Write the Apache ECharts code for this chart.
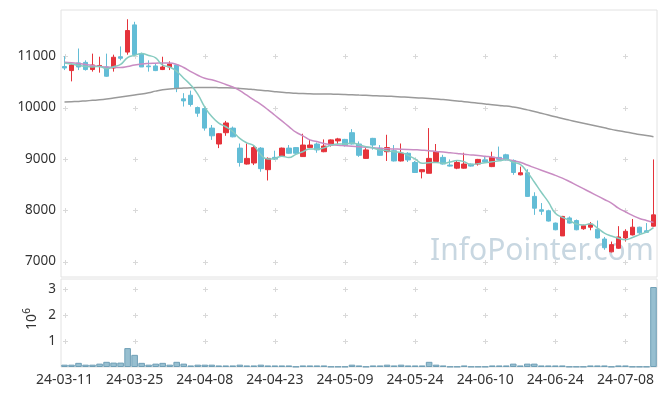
<!DOCTYPE html>
<html><head><meta charset="utf-8">
<script src="https://cdn.jsdelivr.net/npm/echarts@6/dist/echarts.min.js"></script>
<style>html,body{margin:0;padding:0;background:#fff}#c{width:665px;height:396px}</style>
</head><body><div id="c"></div>
<script>
const dates = [
'24-03-11','24-03-12','24-03-13','24-03-14','24-03-15','24-03-18','24-03-19','24-03-20','24-03-21','24-03-22',
'24-03-25','24-03-26','24-03-27','24-03-28','24-03-29','24-04-01','24-04-02','24-04-03','24-04-04','24-04-05',
'24-04-08','24-04-09','24-04-11','24-04-12','24-04-15','24-04-16','24-04-17','24-04-18','24-04-19','24-04-22',
'24-04-23','24-04-24','24-04-25','24-04-26','24-04-29','24-04-30','24-05-02','24-05-03','24-05-07','24-05-08',
'24-05-09','24-05-10','24-05-13','24-05-14','24-05-16','24-05-17','24-05-20','24-05-21','24-05-22','24-05-23',
'24-05-24','24-05-27','24-05-28','24-05-29','24-05-30','24-05-31','24-06-03','24-06-04','24-06-05','24-06-07',
'24-06-10','24-06-11','24-06-12','24-06-13','24-06-14','24-06-17','24-06-18','24-06-19','24-06-20','24-06-21',
'24-06-24','24-06-25','24-06-26','24-06-27','24-06-28','24-07-01','24-07-02','24-07-03','24-07-04','24-07-05',
'24-07-08','24-07-09','24-07-10','24-07-11','24-07-12'];

const opens = [
10800,10720,10870,10880,10740,10800,10790,10770,10990,11080,
11610,11050,10810,10810,10740,10790,10830,10170,10240,10000,
9980,9600,9290,9510,9600,9210,8900,8920,9210,8790,
9030,9050,9210,9220,9045,9220,9290,9140,9270,9350,
9380,9510,9290,9010,9400,9210,9140,9160,8960,9110,
8930,8750,8720,8950,9030,8880,8820,8820,8900,8900,
8980,8850,9030,9080,8970,8690,8730,8270,8010,7990,
7750,7500,7850,7800,7640,7670,7630,7440,7190,7260,
7460,7520,7670,7600,7690];
const closes = [
10770,10830,10790,10740,10830,10820,10610,10980,10960,11500,
11030,10790,10795,10720,10790,10850,10370,10130,10060,9890,
9600,9450,9490,9700,9430,8930,9010,9220,8810,9010,
9000,9210,9110,9110,9270,9270,9175,9250,9370,9390,
9260,9290,9070,9175,9270,9070,9220,8960,9110,8980,
8735,8790,9010,9140,8900,8860,8930,8900,8860,8990,
8940,9030,8990,8980,8735,8730,8270,8040,7980,7790,
7620,7880,7750,7620,7700,7730,7460,7270,7330,7480,
7590,7670,7560,7570,7910];
const lows = [
10730,10510,10730,10720,10700,10680,10600,10700,10920,11030,
11000,10790,10700,10710,10730,10730,10300,10020,10020,9820,
9550,9370,9210,9450,9420,8850,8890,8880,8750,8580,
8980,9040,9100,9090,9040,9210,9120,9130,9240,9290,
9240,9280,9040,9000,9180,9060,8960,8950,8950,8940,
8730,8620,8720,8940,8890,8850,8800,8810,8850,8870,
8920,8840,8980,8970,8690,8680,8260,7910,7910,7780,
7610,7500,7740,7610,7620,7610,7450,7230,7180,7250,
7390,7510,7540,7560,7680];
const highs = [
11000,10850,11150,10920,11050,10990,11050,11030,11190,11720,
11670,11070,10920,10860,10990,10900,10840,10280,10330,10020,
10020,9660,9500,9740,9630,9300,9300,9270,9230,9030,
9160,9220,9270,9230,9490,9380,9320,9380,9380,9410,
9390,9580,9340,9210,9410,9270,9470,9270,9300,9130,
8960,8800,9600,9290,9080,8990,8970,9120,8910,9000,
9040,9140,9240,9100,8990,8850,8800,8350,8140,8010,
7760,7890,7880,7820,7720,7770,7800,7480,7390,7690,
7630,7830,7680,7750,8990];
const volumes = [
90000,90000,160000,90000,90000,130000,200000,170000,170000,730000,
470000,160000,90000,130000,160000,90000,200000,130000,60000,90000,
90000,90000,60000,60000,60000,90000,60000,60000,90000,60000,
60000,60000,60000,15000,60000,60000,60000,60000,15000,15000,
15000,90000,60000,15000,60000,60000,90000,60000,90000,60000,
60000,60000,200000,90000,60000,15000,15000,60000,15000,15000,
15000,60000,60000,60000,130000,60000,130000,130000,60000,60000,
60000,60000,15000,15000,15000,60000,60000,60000,15000,60000,
60000,15000,15000,15000,3090000];
const ma5 = [
10870,10850,10820,10800,10792,10802,10758,10796,10840,10974,
11016,11052,11015,10967,10825,10789,10705,10572,10440,10260,
10010,9826,9698,9626,9534,9400,9312,9258,9080,8996,
9010,9050,9028,9088,9140,9194,9187,9215,9267,9291,
9289,9312,9276,9237,9213,9175,9161,9139,9126,9068,
9001,8915,8925,8931,8915,8940,8968,8946,8890,8908,
8924,8944,8962,8986,8935,8893,8741,8551,8351,8162,
7940,7862,7804,7732,7714,7736,7652,7556,7498,7454,
7426,7468,7526,7574,7660];
const ma20 = [
10880,10875,10860,10840,10820,10800,10790,10785,10780,10800,
10830,10850,10860,10865,10870,10868,10840,10780,10700,10630,
10570,10540,10500,10450,10400,10330,10240,10150,10060,9960,
9850,9740,9630,9520,9450,9370,9340,9300,9280,9265,
9255,9245,9235,9225,9215,9205,9197,9193,9190,9185,
9178,9170,9160,9145,9135,9120,9105,9090,9078,9065,
9050,9035,9010,8990,8965,8935,8880,8830,8780,8730,
8680,8625,8560,8490,8420,8350,8280,8210,8140,8040,
7970,7900,7840,7800,7764];
const ma60 = [
10110,10115,10120,10130,10140,10150,10165,10185,10205,10225,
10245,10265,10290,10320,10345,10360,10372,10382,10388,10390,
10390,10390,10388,10385,10380,10372,10362,10350,10338,10325,
10310,10297,10287,10278,10272,10268,10265,10263,10262,10260,
10255,10248,10243,10238,10232,10227,10222,10215,10208,10200,
10192,10184,10175,10165,10155,10143,10130,10115,10100,10085,
10070,10055,10042,10030,10010,9985,9955,9925,9890,9855,
9820,9785,9755,9725,9695,9665,9635,9605,9575,9550,
9525,9500,9475,9455,9433];
const priceTicks = [7000, 8000, 9000, 10000, 11000];
const volTicks = [1000000, 2000000, 3000000];
const labelEvery = 10;

const candles = dates.map((d, i) => [opens[i], closes[i], lows[i], highs[i]]);
const gridIdx = dates.map((d, i) => i).filter(i => i % labelEvery === 0);
const crossMain = [];
gridIdx.forEach(i => priceTicks.forEach(v => crossMain.push([i, v])));
const crossVol = [];
gridIdx.forEach(i => volTicks.forEach(v => crossVol.push([i, v])));

function crossItem(params, api) {
  const p = api.coord([api.value(0), api.value(1)]);
  const x = Math.round(p[0]) + 0.5, y = Math.round(p[1]) + 0.5, s = 2.5;
  return {type: 'group', children: [
    {type: 'line', shape: {x1: x - s, y1: y, x2: x + s, y2: y}, style: {stroke: '#d9d9d9', lineWidth: 1}},
    {type: 'line', shape: {x1: x, y1: y - s, x2: x, y2: y + s}, style: {stroke: '#d9d9d9', lineWidth: 1}}
  ]};
}

const RED = '#e5333b', BLUE = '#63bdd6';
const font = 'Noto Sans';
const chart = echarts.init(document.getElementById('c'), null, {renderer: 'canvas'});
chart.setOption({
  animation: false,
  backgroundColor: '#ffffff',
  grid: [
    {left: 61, top: 10, right: 8, height: 267, show: true, borderColor: '#e2e2e2', borderWidth: 1},
    {left: 61, top: 279, right: 8, height: 88, show: true, borderColor: '#e2e2e2', borderWidth: 1}
  ],
  xAxis: [
    {type: 'category', data: dates, gridIndex: 0, axisLine: {show: false}, axisTick: {show: false},
     axisLabel: {show: false}, splitLine: {show: false}},
    {type: 'category', data: dates, gridIndex: 1, axisLine: {show: false}, axisTick: {show: false},
     splitLine: {show: false},
     axisLabel: {interval: labelEvery - 1, color: '#333', fontSize: 14, fontFamily: font, margin: 6}}
  ],
  yAxis: [
    {type: 'value', gridIndex: 0, min: 6700, max: 11900, scale: true,
     axisLine: {show: false}, axisTick: {show: false}, splitLine: {show: false},
     axisLabel: {customValues: priceTicks, formatter: v => String(v), color: '#333', fontSize: 13.5, fontFamily: font, margin: 5}},
    {type: 'value', gridIndex: 1, min: 0, max: 3400000,
     axisLine: {show: false}, axisTick: {show: false}, splitLine: {show: false},
     axisLabel: {customValues: volTicks, formatter: v => String(v / 1000000), color: '#333', fontSize: 13.5, fontFamily: font, margin: 5}}
  ],
  graphic: [
    {type: 'text', left: 430, top: 236, z: 0, silent: true,
     style: {text: 'InfoPointer.com', fontSize: 30, fontFamily: font, fill: '#c8d7e1'}},
    {type: 'group', x: 32, y: 322, rotation: Math.PI / 2, silent: true, children: [
      {type: 'text', x: 0, y: 0, style: {text: '10', fontSize: 14, fontFamily: font, fill: '#333', align: 'center', verticalAlign: 'middle'}},
      {type: 'text', x: 11, y: -5, style: {text: '6', fontSize: 10, fontFamily: font, fill: '#333', align: 'center', verticalAlign: 'middle'}}
    ]}
  ],
  series: [
    {type: 'custom', xAxisIndex: 0, yAxisIndex: 0, data: crossMain, renderItem: crossItem, silent: true, z: 1},
    {type: 'custom', xAxisIndex: 1, yAxisIndex: 1, data: crossVol, renderItem: crossItem, silent: true, z: 1},
    {type: 'candlestick', xAxisIndex: 0, yAxisIndex: 0, data: candles, barWidth: 5, z: 3,
     itemStyle: {color: RED, color0: BLUE, borderColor: RED, borderColor0: BLUE, borderWidth: 1}},
    {type: 'line', xAxisIndex: 0, yAxisIndex: 0, data: ma60, smooth: true, showSymbol: false, z: 4,
     lineStyle: {color: '#9a9a9a', width: 1.5}},
    {type: 'line', xAxisIndex: 0, yAxisIndex: 0, data: ma20, smooth: true, showSymbol: false, z: 4,
     lineStyle: {color: '#c98cc3', width: 1.5}},
    {type: 'line', xAxisIndex: 0, yAxisIndex: 0, data: ma5, smooth: true, showSymbol: false, z: 4,
     lineStyle: {color: '#86cbc0', width: 1.5}},
    {type: 'bar', xAxisIndex: 1, yAxisIndex: 1, data: volumes, barCategoryGap: '6%', z: 3,
     itemStyle: {color: '#97bfd0', borderColor: '#6f9fb6', borderWidth: 1}}
  ]
});
</script>
</body></html>
